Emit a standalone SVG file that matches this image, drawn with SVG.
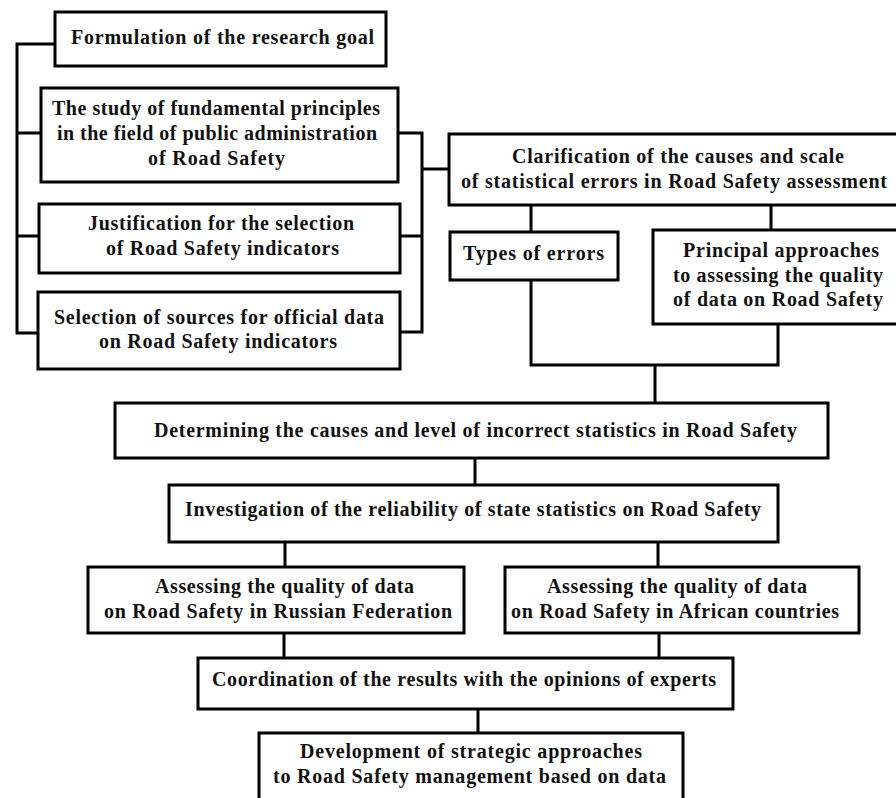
<svg xmlns="http://www.w3.org/2000/svg" width="896" height="798" viewBox="0 0 896 798">
<style>
.box{fill:#fff;stroke:#000;stroke-width:3}
.ln{fill:none;stroke:#000;stroke-width:3}
text{font-family:"Liberation Serif","Times New Roman",serif;font-weight:bold;font-size:20px;fill:#111}
</style>
<rect width="896" height="798" fill="#fff"/>
<g id="connectors">
<path class="ln" d="M55,44 H17 V333 H39 M17,133 H41 M17,236 H39"/>
<path class="ln" d="M398,133 H422 V332 H400 M400,236 H422 M421,169 H449"/>
<path class="ln" d="M531,205 V232 M771,205 V230"/>
<path class="ln" d="M531,280 V365 H778 V324 M655,365 V403"/>
<path class="ln" d="M475,458 V485"/>
<path class="ln" d="M285,542 V567 M658,542 V567"/>
<path class="ln" d="M284,633 V658 M659,633 V658"/>
<path class="ln" d="M478,709 V733"/>
</g>
<g id="n1"><rect class="box" x="55" y="12" width="331" height="54"/>
<text x="71" y="44" textLength="303">Formulation of the research goal</text></g>
<g id="n2"><rect class="box" x="41" y="88" width="357" height="94"/>
<text x="52" y="115" textLength="328">The study of fundamental principles</text>
<text x="57" y="140" textLength="320">in the field of public administration</text>
<text x="148" y="165" textLength="137">of Road Safety</text></g>
<g id="n3"><rect class="box" x="39" y="204" width="361" height="69"/>
<text x="88" y="230" textLength="266">Justification for the selection</text>
<text x="106" y="255" textLength="233">of Road Safety indicators</text></g>
<g id="n4"><rect class="box" x="38" y="292" width="362" height="77"/>
<text x="54" y="324" textLength="330">Selection of sources for official data</text>
<text x="99" y="348" textLength="238">on Road Safety indicators</text></g>
<g id="n5"><rect class="box" x="449" y="134" width="455" height="71"/>
<text x="512" y="163" textLength="332">Clarification of the causes and scale</text>
<text x="461" y="188" textLength="426">of statistical errors in Road Safety assessment</text></g>
<g id="n6"><rect class="box" x="450" y="232" width="168" height="48"/>
<text x="463" y="260" textLength="141">Types of errors</text></g>
<g id="n7"><rect class="box" x="653" y="230" width="251" height="94"/>
<text x="683" y="257" textLength="196">Principal approaches</text>
<text x="673" y="282" textLength="210">to assessing the quality</text>
<text x="673" y="306" textLength="210">of data on Road Safety</text></g>
<g id="n8"><rect class="box" x="115" y="403" width="713" height="55"/>
<text x="154" y="437" textLength="643">Determining the causes and level of incorrect statistics in Road Safety</text></g>
<g id="n9"><rect class="box" x="169" y="485" width="609" height="57"/>
<text x="185" y="516" textLength="576">Investigation of the reliability of state statistics on Road Safety</text></g>
<g id="n10"><rect class="box" x="88" y="567" width="376" height="66"/>
<text x="155" y="593" textLength="259">Assessing the quality of data</text>
<text x="104" y="618" textLength="348">on Road Safety in Russian Federation</text></g>
<g id="n11"><rect class="box" x="505" y="567" width="354" height="66"/>
<text x="547" y="593" textLength="260">Assessing the quality of data</text>
<text x="511" y="618" textLength="328">on Road Safety in African countries</text></g>
<g id="n12"><rect class="box" x="198" y="658" width="535" height="51"/>
<text x="212" y="686" textLength="504">Coordination of the results with the opinions of experts</text></g>
<g id="n13"><rect class="box" x="259" y="733" width="424" height="80"/>
<text x="300" y="758" textLength="342">Development of strategic approaches</text>
<text x="273" y="783" textLength="393">to Road Safety management based on data</text></g>
</svg>
